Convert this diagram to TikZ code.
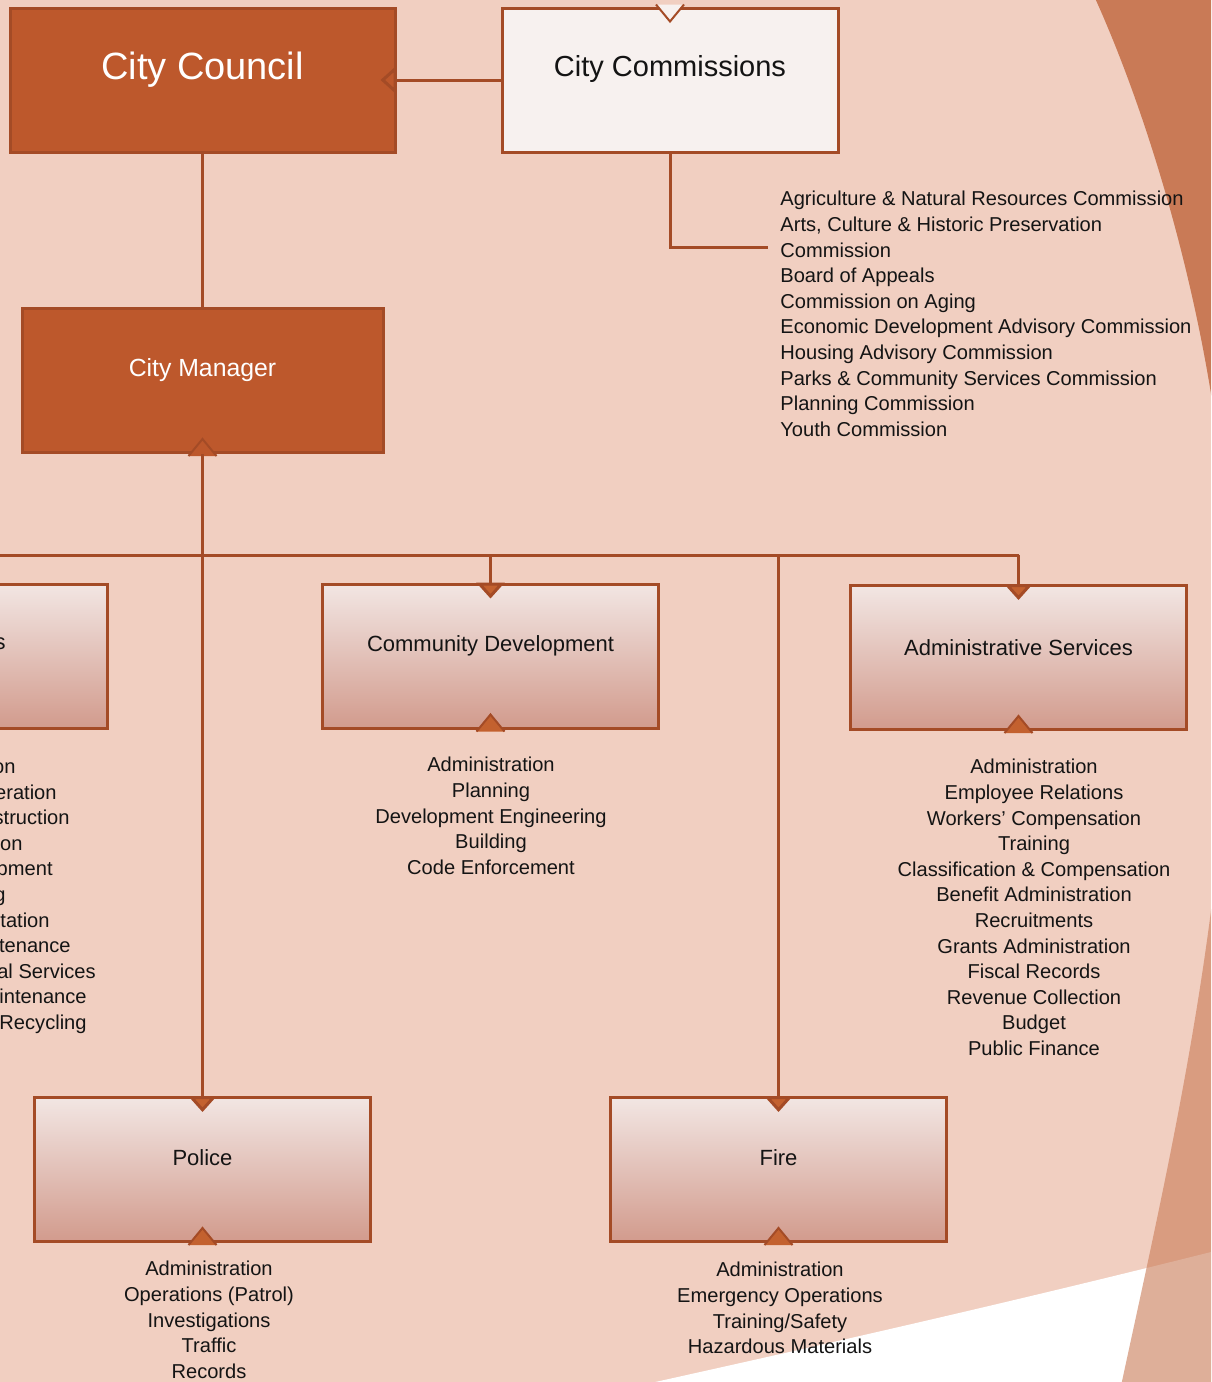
\documentclass[tikz,border=0pt]{standalone}
\usepackage{fontspec}
\setmainfont{Liberation Sans}
\usetikzlibrary{arrows.meta, positioning, calc}
\definecolor{bgPeach}{HTML}{F1CFC1}
\definecolor{mainOrange}{HTML}{BD582C}
\definecolor{lineBrown}{HTML}{A44B26}
\definecolor{notchOrange}{HTML}{C3612F}
\definecolor{boxTop}{HTML}{F2E6E3}
\definecolor{boxBottom}{HTML}{D29B8D}
\definecolor{paleBox}{HTML}{F7F1EF}
\definecolor{bandOrange}{HTML}{C97A56}
\definecolor{mainBlack}{gray}{0.08}

\tikzset{
  topbox/.style={draw=lineBrown, line width=1.5pt, fill=mainOrange, minimum height=72pt, inner sep=0pt},
  deptbox/.style={draw=lineBrown, line width=1.5pt, top color=boxTop, bottom color=boxBottom, minimum width=168pt, minimum height=72pt, inner sep=0pt},
  depttext/.style={text=mainBlack, font=\fontsize{11}{13}\selectfont, inner sep=0pt},
  list/.style={align=center, anchor=north, inner sep=0pt, text=mainBlack, font=\fontsize{10.05}{12.8}\selectfont},
  wire/.style={draw=lineBrown, line width=1.5pt},
  link/.style={wire, -{Triangle[width=14pt, length=8pt, fill=#1]}, shorten >=-8pt},
  link/.default=notchOrange,
  caret/.style={draw=lineBrown, line width=1pt, fill=#1},
  caret/.default=notchOrange,
}

\begin{document}
\begin{tikzpicture}[x=0.5pt, y=-0.5pt]
    \useasboundingbox (0,0) rectangle (1211,1382);
    \clip (0,0) rectangle (1211,1382);

    % background
    \fill[bgPeach] (0,0) rectangle (1211,1382);
    \fill[white] (610,1392) .. controls (800,1350) and (1000,1305) .. (1215,1251) -- (1215,1392) -- cycle;
    \fill[bandOrange] (1095,-2) .. controls (1150,120) and (1195,280) .. (1215,420) -- (1215,-2) -- cycle;
    \fill[bandOrange, opacity=0.6] (1213,895) .. controls (1190,1080) and (1150,1250) .. (1118,1400) -- (1215,1400) -- cycle;

    % top level
    \node[topbox, minimum width=192.5pt, label={[text=white, font=\fontsize{19}{22}\selectfont, yshift=5pt]center:City Council}] (council) at (202.5,80) {};
    \node[topbox, fill=paleBox, minimum width=168pt, label={[text=mainBlack, font=\fontsize{14.5}{17}\selectfont, yshift=5.5pt]center:City Commissions}] (commis) at (670,80) {};
    \node[topbox, minimum width=180.5pt, label={[text=white, font=\fontsize{12.4}{15}\selectfont, yshift=5.25pt]center:City Manager}] (manager) at (202.5,380.5) {};

    % departments
    \node[deptbox] (pw) at (-61,656) {};
    \node[depttext, anchor=base east] (pwtext) at (6,649) {s};
    \node[deptbox, label={[depttext, yshift=5pt]center:Community Development}] (cd) at (490.5,656) {};
    \node[deptbox, label={[depttext, yshift=5pt]center:Administrative Services}] (admin) at (1018.5,657.5) {};
    \node[deptbox, label={[depttext, yshift=5.75pt]center:Police}] (police) at (202.5,1169.5) {};
    \node[deptbox, label={[depttext, yshift=5.75pt]center:Fire}] (fire) at (778.5,1169.5) {};

    % notches without a line
    \draw[caret=paleBox] ($(commis.north)+(-14,-2)$) -- ++(14,17) -- ++(14,-17);
    \draw[caret=mainOrange] ($(manager.south)+(-14,2)$) -- ++(14,-17) -- ++(14,17);
    \foreach \dept in {cd, admin, police, fire}
        \draw[caret] ($(\dept.south)+(-14,2)$) -- ++(14,-17) -- ++(14,17);

    % lists
    \node[list, anchor=north west, align=left] (commlist) at (780,191) {Agriculture \& Natural Resources Commission\\ Arts, Culture \& Historic Preservation\\ Commission\\ Board of Appeals\\ Commission on Aging\\ Economic Development Advisory Commission\\ Housing Advisory Commission\\ Parks \& Community Services Commission\\ Planning Commission\\ Youth Commission};
    \node[list] (cdlist) at (491,757) {Administration\\ Planning\\ Development Engineering\\ Building\\ Code Enforcement};
    \node[list] (adminlist) at (1034,759) {Administration\\ Employee Relations\\ Workers' Compensation\\ Training\\ Classification \& Compensation\\ Benefit Administration\\ Recruitments\\ Grants Administration\\ Fiscal Records\\ Revenue Collection\\ Budget\\ Public Finance};
    \node[list] (policelist) at (209,1261) {Administration\\ Operations (Patrol)\\ Investigations\\ Traffic\\ Records};
    \node[list] (firelist) at (780,1262) {Administration\\ Emergency Operations\\ Training/Safety\\ Hazardous Materials};
    \foreach \frag/\xe [count=\i] in {on/16, eration/57, struction/70, ion/23, pment/53, g/6, tation/50, tenance/71, al Services/96, intenance/87, {/Recycling}/87}
        \node[list, anchor=base east, name=frag\i] at (\xe, 773.4+25.6*\i-25.6) {\frag};

    % connectors
    \coordinate (commjoin) at (768,247);
    \coordinate (busL) at (-5,555);
    \coordinate (busR) at (admin.north |- busL);
    \draw[link=mainOrange] (commis.west) -- (council.east);
    \draw[wire] (council.south) -- (manager.north);
    \draw[wire] (commis.south) |- (commjoin);
    \draw[link] (manager.south) -- (police.north);
    \draw[wire] (busL) -- (busR);
    \draw[link] (cd.north |- busL) -- (cd.north);
    \draw[link] (busR) -- (admin.north);
    \draw[link] (fire.north |- busL) -- (fire.north);
\end{tikzpicture}
\end{document}
